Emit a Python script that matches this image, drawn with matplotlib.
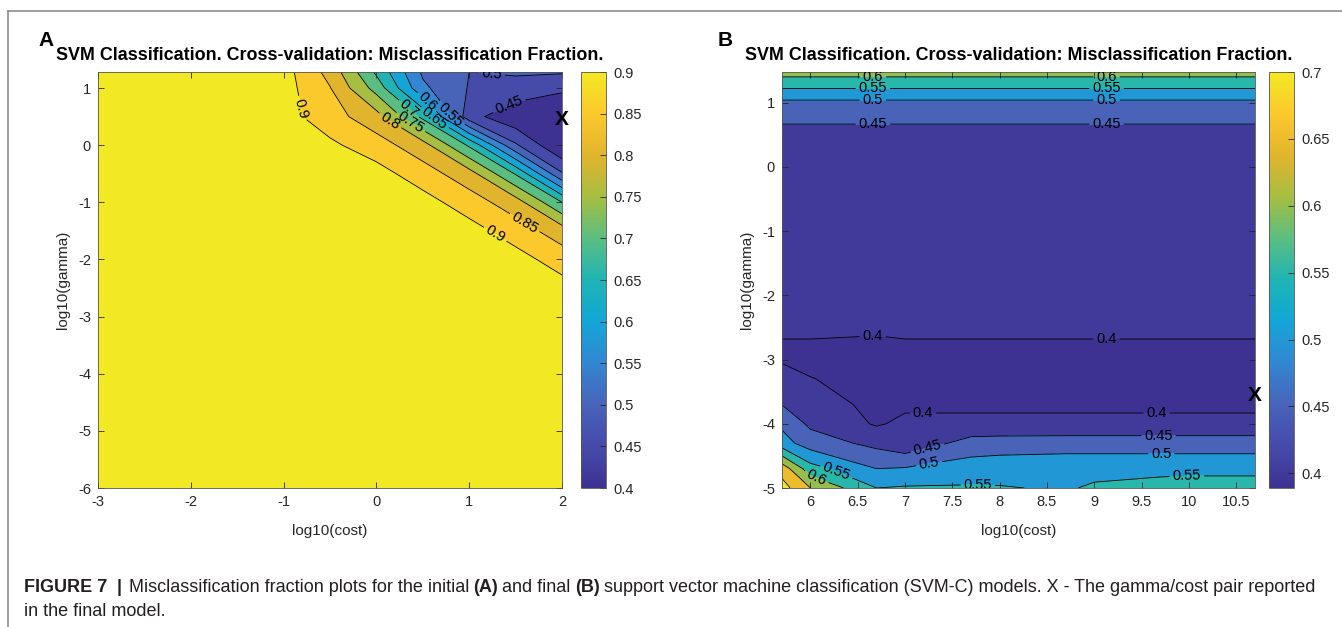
import numpy as np
import matplotlib
matplotlib.use("Agg")
import matplotlib.pyplot as plt
from matplotlib.colors import LinearSegmentedColormap, Normalize
from matplotlib.cm import ScalarMappable
from matplotlib.lines import Line2D

plt.rcParams["font.family"] = ["Liberation Sans", "DejaVu Sans"]
plt.rcParams["axes.unicode_minus"] = False

# ---- panel A: initial grid search (log10 cost x log10 gamma) ----
cost_a = [-3, -1, -0.5, 0, 0.5, 1, 1.5, 2]
gamma_a = [-6, -2.5, -2, -1.5, -1, -0.5, 0, 0.5, 1.0, 1.28]
err_a = [
    [0.92, 0.92, 0.92, 0.92, 0.92, 0.92, 0.92, 0.92],
    [0.92, 0.92, 0.92, 0.92, 0.92, 0.92, 0.92, 0.92],
    [0.92, 0.92, 0.92, 0.92, 0.92, 0.92, 0.92, 0.876],
    [0.92, 0.92, 0.92, 0.92, 0.92, 0.92, 0.875, 0.824],
    [0.92, 0.92, 0.92, 0.92, 0.92, 0.874, 0.823, 0.70],
    [0.92, 0.92, 0.92, 0.92, 0.873, 0.821, 0.696, 0.505],
    [0.92, 0.92, 0.91, 0.872, 0.82, 0.692, 0.507, 0.40],
    [0.92, 0.92, 0.871, 0.819, 0.6875, 0.47, 0.41, 0.40],
    [0.92, 0.92, 0.852, 0.73, 0.56, 0.497, 0.488, 0.46],
    [0.92, 0.92, 0.833, 0.691, 0.542, 0.50, 0.504, 0.505],
]
best_a = (2.0, 0.455)

# ---- panel B: refined grid search ----
cost_b = [5.699, 6, 6.699, 7, 7.699, 8, 8.699, 9, 9.699, 10, 10.699]
gamma_b = [-5, -4.699, -4.301, -4, -3.699, -3.301, -3, -2, -1, 0, 0.699, 1, 1.477]
err_b = [
    [0.72, 0.65, 0.55, 0.555, 0.555, 0.553, 0.545, 0.5565, 0.57, 0.575, 0.575],
    [0.68, 0.57, 0.50, 0.504, 0.525, 0.53, 0.535, 0.535, 0.535, 0.535, 0.535],
    [0.52, 0.475, 0.436, 0.413, 0.47, 0.473, 0.475, 0.475, 0.475, 0.475, 0.475],
    [0.49, 0.44, 0.395, 0.41, 0.41, 0.41, 0.41, 0.41, 0.41, 0.41, 0.41],
    [0.449, 0.42, 0.389, 0.392, 0.392, 0.392, 0.392, 0.392, 0.392, 0.392, 0.392],
    [0.432, 0.401, 0.389, 0.39, 0.39, 0.39, 0.39, 0.39, 0.39, 0.39, 0.39],
    [0.392, 0.392, 0.39, 0.392, 0.392, 0.392, 0.392, 0.392, 0.392, 0.392, 0.392],
    [0.417] * 11,
    [0.428] * 11,
    [0.44] * 11,
    [0.4505] * 11,
    [0.489] * 11,
    [0.621] * 11,
]
best_b = (10.699, -3.56)

# where the inline level labels sit, per level
labels_a = {
    0.9: [(-0.80, 0.64), (1.26, -1.61)],
    0.85: [(1.55, -1.49)],
    0.8: [(0.13, 0.38)],
    0.75: [(0.34, 0.32)],
    0.7: [(0.29, 0.52)],
    0.65: [(0.59, 0.38)],
    0.6: [(0.43, 0.58)],
    0.55: [(0.77, 0.50)],
    0.5: [(1.24, 1.23)],
    0.45: [(1.42, 0.73)],
}
labels_b = {
    0.6: [(6.66, 1.40), (9.13, 1.40), (6.05, -4.88)],
    0.55: [(6.66, 1.22), (9.13, 1.22), (6.26, -4.80), (7.77, -4.96), (9.98, -4.84)],
    0.5: [(6.66, 1.04), (9.13, 1.04), (7.26, -4.68), (9.71, -4.46)],
    0.45: [(6.66, 0.66), (9.13, 0.66), (7.24, -4.41), (9.68, -4.22)],
    0.4: [(6.66, -2.68), (9.13, -2.68), (7.19, -3.87), (9.66, -3.85)],
}

# parula-like colour map
cmap = LinearSegmentedColormap.from_list(
    "parula_like", [tuple(c / 255 for c in rgb) for rgb in
                    [(61, 50, 145), (70, 75, 170), (72, 100, 185), (50, 135, 210),
                     (20, 165, 215), (30, 180, 180), (90, 190, 130), (165, 190, 65),
                     (225, 180, 45), (252, 200, 45), (242, 232, 35)]], N=256)

TXT = "#262626"
W, H = 1342, 627
fig = plt.figure(figsize=(W / 100, H / 100), dpi=100)


def px_box(x0, y0, x1, y1):
    return [x0 / W, 1 - y1 / H, (x1 - x0) / W, (y1 - y0) / H]


def panel(box, cbox, cx, gy, z, vmin, vmax, line_levels, xticks, yticks,
          lab_pos, best):
    ax = fig.add_axes(px_box(*box))
    cax = fig.add_axes(px_box(*cbox))
    z = np.array(z)
    norm = Normalize(vmin, vmax)
    fill_levels = [0.0] + list(line_levels) + [1.5]
    # each band takes the colour of its lower level
    cols = [cmap(norm(max(l, vmin))) for l in fill_levels[:-1]]
    ax.contourf(cx, gy, z, levels=fill_levels, colors=cols)
    # one contour set per level so each gets its own labels
    for lev in line_levels:
        cs = ax.contour(cx, gy, z, levels=[lev], colors="black",
                        linewidths=0.6)
        if lev in lab_pos:
            ax.clabel(cs, fmt="%g", fontsize=10.5, inline=True,
                      inline_spacing=3, manual=lab_pos[lev])
    ax.set_xlim(cx[0], cx[-1])
    ax.set_ylim(gy[0], gy[-1])
    ax.set_xticks(xticks)
    ax.set_xticklabels(["%g" % t for t in xticks])
    ax.set_yticks(yticks)
    ax.tick_params(direction="in", top=True, right=True, length=4, width=0.6,
                   labelsize=10.5, colors=TXT, pad=5)
    for s in ax.spines.values():
        s.set_linewidth(0.6)
        s.set_color("#555555")
    ax.text(best[0], best[1], "X", ha="center", va="center", fontsize=15,
            fontweight="bold", clip_on=False)
    ax.set_title("SVM Classification. Cross-validation: Misclassification Fraction.",
                 fontsize=12.9, fontweight="bold", pad=9)
    ax.set_xlabel("log10(cost)", fontsize=11, color=TXT, labelpad=11)
    ax.set_ylabel("log10(gamma)", fontsize=11, color=TXT, labelpad=5.5)

    ticks = [round(v, 2) for v in np.arange(0.4, vmax + 1e-9, 0.05)]
    cb = fig.colorbar(ScalarMappable(norm=norm, cmap=cmap), cax=cax)
    cb.set_ticks(ticks)
    cb.ax.set_yticklabels(["%g" % v for v in ticks])
    cb.ax.tick_params(direction="in", length=4, width=0.6, labelsize=10.5,
                      colors=TXT, pad=5)
    cb.outline.set_linewidth(0.6)
    cb.outline.set_edgecolor("#555555")
    return ax


levels_a = [round(v, 2) for v in np.arange(0.45, 0.9001, 0.05)]
levels_b = [round(v, 2) for v in np.arange(0.40, 0.7001, 0.05)]

panel((98, 72, 562, 488), (581, 72, 606, 488), cost_a, gamma_a, err_a, 0.4, 0.9,
      levels_a, [-3, -2, -1, 0, 1, 2], [-6, -5, -4, -3, -2, -1, 0, 1],
      labels_a, best_a)
panel((782, 72, 1255, 488), (1269, 72, 1294, 488), cost_b, gamma_b, err_b,
      0.389, 0.7, levels_b, [6, 6.5, 7, 7.5, 8, 8.5, 9, 9.5, 10, 10.5],
      [-5, -4, -3, -2, -1, 0, 1], labels_b, best_b)

fig.text(38 / W, 1 - 40 / H, "A", fontsize=15, fontweight="bold", va="center")
fig.text(718 / W, 1 - 40 / H, "B", fontsize=15, fontweight="bold", va="center")

# frame around the figure
fig.add_artist(Line2D([8 / W, 1], [1 - 11 / H, 1 - 11 / H], color="#8c8c8c",
                      lw=1.2, transform=fig.transFigure))
fig.add_artist(Line2D([8 / W, 8 / W], [0, 1 - 11 / H], color="#8c8c8c",
                      lw=1.2, transform=fig.transFigure))

# caption with bold runs, words placed one after another
CAP = "#231f20"
line1 = [("FIGURE 7", "bold"), ("|", "bold"),
         ("Misclassification fraction plots for the initial", "normal"),
         ("(A)", "bold"), ("and final", "normal"), ("(B)", "bold"),
         ("support vector machine classification (SVM-C) models. X - The "
          "gamma/cost pair reported", "normal")]
gaps1 = [9, 8, 4, 4, 4, 4, 0]
line2 = [("in the final model.", "normal")]
renderer = fig.canvas.get_renderer()
for y, runs, gaps in ((588, line1, gaps1), (612, line2, [0])):
    x = 24
    for (text, weight), gap in zip(runs, gaps):
        t = fig.text(x / W, 1 - y / H, text, fontsize=13, fontweight=weight,
                     color=CAP, va="center")
        bb = t.get_window_extent(renderer=renderer)
        x += bb.width + gap

fig.savefig("out.png", dpi=100)
